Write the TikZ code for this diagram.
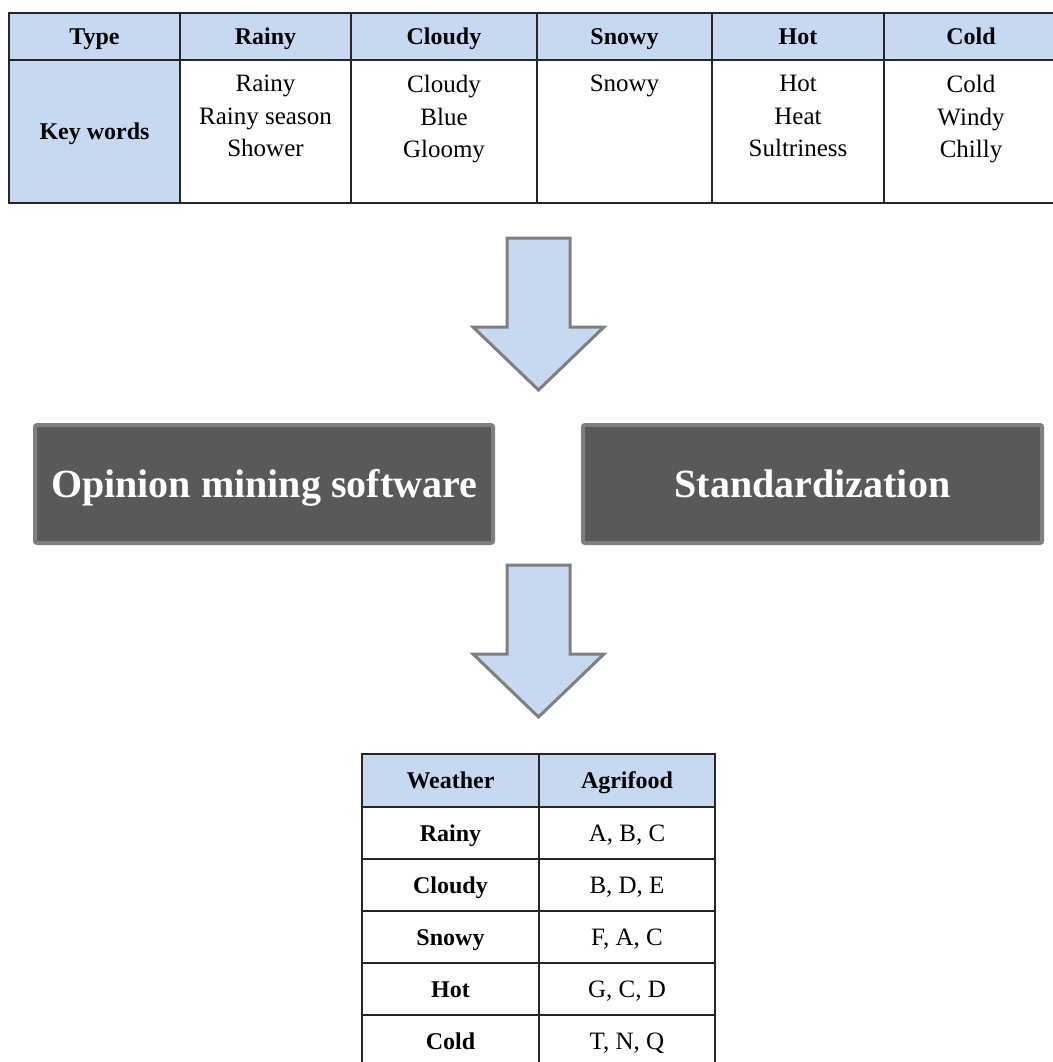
\documentclass[tikz,border=0pt]{standalone}
\usepackage{fontspec}
\setmainfont{Liberation Serif}
\usetikzlibrary{calc}
\definecolor{headblue}{RGB}{198,217,240}
\definecolor{boxgray}{RGB}{89,89,89}
\definecolor{rimgray}{RGB}{127,127,127}
\tikzset{
  grid-line/.style={
    draw=black!85,
    line width=1pt
  },
  head-cell/.style={grid-line, fill=headblue},
  head-text/.style={
    font=\fontsize{12}{14}\selectfont\bfseries,
    inner sep=0pt,
    text height=8pt,
    text depth=0.2pt
  },
  body-text/.style={
    font=\fontsize{12.5}{16.25}\selectfont,
    align=center,
    inner sep=0pt
  },
  dark-box/.style={
    draw=rimgray,
    fill=boxgray,
    line width=2pt,
    rounded corners=1pt
  },
  box-text/.style={
    text=white,
    font=\fontsize{20}{24}\selectfont\bfseries,
    inner sep=0pt,
    text height=13.2pt,
    text depth=0.4pt
  },
  arrow-shape/.style={
    draw=rimgray,
    fill=headblue,
    line width=1.5pt,
    line join=miter
  }
}
\newcommand{\blockarrow}[1]{% #1 = tip of the arrow
  \filldraw[arrow-shape] (507,#1-152) -- (570,#1-152) -- (570,#1-63)
    -- (604,#1-63) -- (538.5,#1) -- (473,#1-63) -- (507,#1-63) -- cycle;
}

\begin{document}
\begin{tikzpicture}[x=0.5pt, y=-0.5pt]
  \useasboundingbox (0,0) rectangle (1053,1062);
  % keyword table
  \filldraw[head-cell] (9,13) rectangle (180,60);
  \filldraw[head-cell] (9,60) rectangle (180,203);
  \node[head-text] (type) at (94.5,37) {Type};
  \node[head-text] (keywords) at (94.5,132) {Key words};
  \foreach \xa/\xb/\head/\words [count=\i] in {
      180/351/Rainy/{Rainy\\Rainy season\\Shower},
      351/537/Cloudy/{Cloudy\\Blue\\Gloomy},
      537/712/Snowy/{Snowy},
      712/884/Hot/{Hot\\Heat\\Sultriness},
      884/1058/Cold/{Cold\\Windy\\Chilly}} {
    \filldraw[head-cell] (\xa,13) rectangle (\xb,60);
    \draw[grid-line] (\xa,60) rectangle (\xb,203);
    \node[head-text] (head-\i) at ({(\xa+\xb)/2},37) {\head};
    \node[body-text, anchor=north] (words-\i) at ({(\xa+\xb)/2},75) {\words};
  }

  \blockarrow{390}

  % processing steps
  \filldraw[dark-box] (35,425) rectangle (493,543);
  \node[box-text] (mining) at (264,485) {Opinion mining software};
  \filldraw[dark-box] (583,425) rectangle (1042,543);
  \node[box-text] (standard) at (812.5,485) {Standardization};

  \blockarrow{717}

  % result table
  \filldraw[head-cell] (362,754) rectangle (539,807);
  \filldraw[head-cell] (539,754) rectangle (715,807);
  \node[head-text] (weather) at (450.5,781) {Weather};
  \node[head-text] (agrifood) at (627,781) {Agrifood};
  \foreach \kind/\food [count=\i] in {
      Rainy/{A, B, C}, Cloudy/{B, D, E}, Snowy/{F, A, C},
      Hot/{G, C, D}, Cold/{T, N, Q}} {
    \draw[grid-line] (362,755+52*\i) rectangle (539,807+52*\i);
    \draw[grid-line] (539,755+52*\i) rectangle (715,807+52*\i);
    \node[head-text] (kind-\i) at (450.5,782+52*\i) {\kind};
    \node[head-text, font=\fontsize{12.5}{15}\selectfont] (food-\i)
      at (627,782+52*\i) {\food};
  }
\end{tikzpicture}
\end{document}
